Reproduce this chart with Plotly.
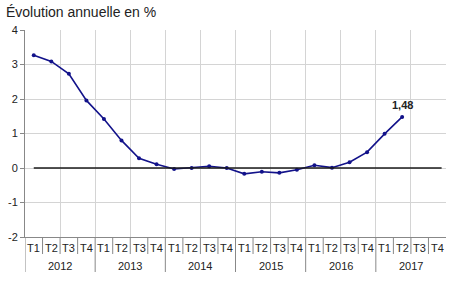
import plotly.graph_objects as go

years = ["2012", "2013", "2014", "2015", "2016", "2017"]
quarters = ["T1", "T2", "T3", "T4"]
values = [3.27, 3.09, 2.73, 1.96, 1.42, 0.80, 0.28, 0.11, -0.03, 0.00, 0.05, 0.00,
          -0.17, -0.11, -0.14, -0.05, 0.08, 0.01, 0.17, 0.46, 0.99, 1.48]
y_ticks = [-2, -1, 0, 1, 2, 3, 4]

n_q = len(years) * len(quarters)
xs = [i + 0.5 for i in range(len(values))]

fig = go.Figure()
fig.add_trace(go.Scatter(
    x=xs, y=values, mode="lines+markers",
    line=dict(color="#12128a", width=1.6),
    marker=dict(color="#12128a", size=4),
    hoverinfo="skip", showlegend=False))

shapes = []
annotations = []
# zero line
shapes.append(dict(type="line", xref="x", yref="y", x0=0.5, x1=n_q - 0.25, y0=0, y1=0,
                   line=dict(color="#1a1a1a", width=1.3)))
# quarter labels and ticks
for yi, yr in enumerate(years):
    for qi, q in enumerate(quarters):
        k = yi * 4 + qi
        annotations.append(dict(x=k + 0.5, y=248, xref="x", yref="paper", text=q, showarrow=False,
                                font=dict(size=11, color="#222222"), yanchor="middle"))
        if k > 0:
            big = qi == 0
            shapes.append(dict(type="line", xref="x", yref="paper", x0=k, x1=k,
                               y0=0, y1=-(35 if big else 17) / 207.0,
                               line=dict(color="#888888", width=1)))
    annotations.append(dict(x=yi * 4 + 2, y=266, xref="x", yref="paper", text=yr, showarrow=False,
                            font=dict(size=11, color="#222222"), yanchor="middle"))
shapes.append(dict(type="line", xref="x", yref="paper", x0=0, x1=0, y0=0, y1=-35 / 207.0,
                   line=dict(color="#888888", width=1)))

# convert label pixel y to paper coordinates
top, bottom = 30, 237
for a in annotations:
    if a["yref"] == "paper":
        a["y"] = (bottom - a["y"]) / (bottom - top)

annotations.append(dict(x=xs[len(values) - 1], y=values[-1], xref="x", yref="y",
                        text="<b>1,48</b>", showarrow=False, yshift=12,
                        font=dict(size=11, color="#222222")))
annotations.append(dict(x=0, y=1, xref="paper", yref="paper", xanchor="left", yanchor="bottom",
                        text="Évolution annuelle en %", showarrow=False, xshift=-21, yshift=8,
                        font=dict(size=14, color="#222222")))

fig.update_layout(
    width=450, height=291,
    margin=dict(l=25, r=4, t=30, b=54),
    paper_bgcolor="white", plot_bgcolor="white",
    font=dict(family="Liberation Sans, Arial, sans-serif", color="#222222"),
    xaxis=dict(range=[0, n_q], tickvals=list(range(0, n_q + 1, 2)), showticklabels=False,
               showgrid=True, gridcolor="#d4d4d4", gridwidth=1, zeroline=False,
               showline=True, linecolor="#888888", linewidth=1, ticks=""),
    yaxis=dict(range=[-2, 4], tickvals=y_ticks, ticktext=[str(v) for v in y_ticks],
               showgrid=True, gridcolor="#d4d4d4", gridwidth=1, zeroline=False,
               showline=True, linecolor="#888888", linewidth=1, ticks="outside",
               ticklen=4, tickcolor="#888888", tickfont=dict(size=11, color="#222222")),
    shapes=shapes, annotations=annotations,
)

fig.write_html("out.html")
